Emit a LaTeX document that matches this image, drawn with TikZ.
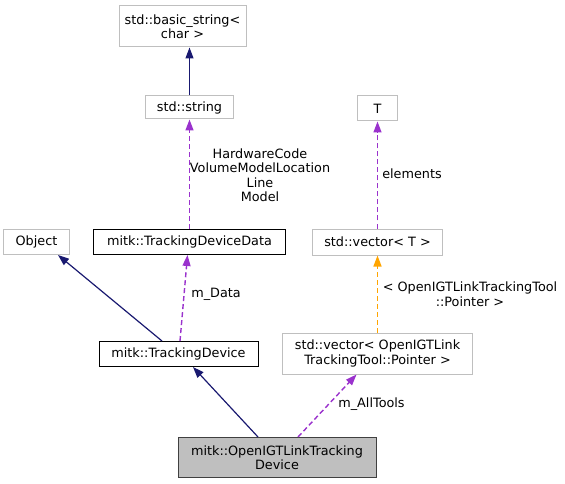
\documentclass[tikz,border=0pt]{standalone}
\usepackage{fontspec}
\setmainfont{DejaVu Sans}
\usetikzlibrary{arrows.meta}
\definecolor{navyc}{HTML}{191970}
\definecolor{purc}{HTML}{9A32CD}
\definecolor{orac}{HTML}{FFA500}
\definecolor{lgray}{HTML}{BFBFBF}
\definecolor{dgray}{HTML}{404040}
\tikzset{
  cls/.style={draw=lgray, line width=1bp, fill=white, inner sep=0pt, align=center,
    font=\fontsize{12.8bp}{14.5bp}\selectfont, text=black},
  doc/.style={cls, draw=black},
  mainc/.style={cls, draw=dgray, fill=lgray},
  inh/.style={draw=navyc, line width=1.2bp, -{Triangle[length=11bp,width=8bp]}},
  usage/.style={draw=purc, line width=1.4bp, dash pattern=on 5bp off 3bp, -{Triangle[length=11bp,width=8bp]}},
  tmpl/.style={draw=orac, line width=1.4bp, dash pattern=on 5bp off 3bp, -{Triangle[length=11bp,width=8bp]}},
  lbl/.style={align=center, inner sep=0pt, font=\fontsize{12.8bp}{14.5bp}\selectfont}
}
\begin{document}
\begin{tikzpicture}[x=1bp,y=-1bp]
\useasboundingbox (0,0) rectangle (565,484);
\node[cls, minimum width=127bp, minimum height=41bp] (bs) at (182.5,26.5) {std::basic\_string<\\char >};
\node[cls, minimum width=88bp, minimum height=23bp] (str) at (189.5,107.5) {std::string};
\node[doc, minimum width=192bp, minimum height=25bp] (tdd) at (189.5,242) {mitk::TrackingDeviceData};
\node[cls, minimum width=65bp, minimum height=25bp] (obj) at (36.5,242) {Object};
\node[doc, minimum width=159bp, minimum height=25bp] (td) at (178.5,354) {mitk::TrackingDevice};
\node[mainc, minimum width=198bp, minimum height=40bp] (main) at (277,457.5) {mitk::OpenIGTLinkTracking\\Device};
\node[cls, minimum width=40bp, minimum height=25bp] (T) at (377.5,108.5) {T};
\node[cls, minimum width=130bp, minimum height=26bp] (vt) at (377.5,242) {std::vector< T >};
\node[cls, minimum width=190bp, minimum height=41bp] (vo) at (377.5,353.5) {std::vector< OpenIGTLink\\TrackingTool::Pointer >};

\draw[inh] (str.north) -- (str.north |- bs.south);
\draw[usage] (tdd.north) -- (str.south);
\draw[inh] ([xshift=-16.5bp]td.north) -- ([xshift=21.5bp]obj.south);
\draw[usage] ([xshift=1.5bp]td.north) -- ([xshift=-2bp]tdd.south);
\draw[inh] ([xshift=-19bp]main.north) -- ([xshift=14.5bp]td.south);
\draw[usage] ([xshift=21bp]main.north) -- ([xshift=-21bp]vo.south);
\draw[tmpl] (vo.north) -- (vt.south);
\draw[usage] (vt.north) -- (T.south);

\node[lbl] (l1) at (260,175) {HardwareCode\\VolumeModelLocation\\Line\\Model};
\node[lbl] (l2) at (216,294) {m\_Data};
\node[lbl] (l3) at (412,174) {elements};
\node[lbl] (l4) at (470,294) {< OpenIGTLinkTrackingTool\\::Pointer >};
\node[lbl] (l5) at (371.5,404) {m\_AllTools};
\end{tikzpicture}
\end{document}
